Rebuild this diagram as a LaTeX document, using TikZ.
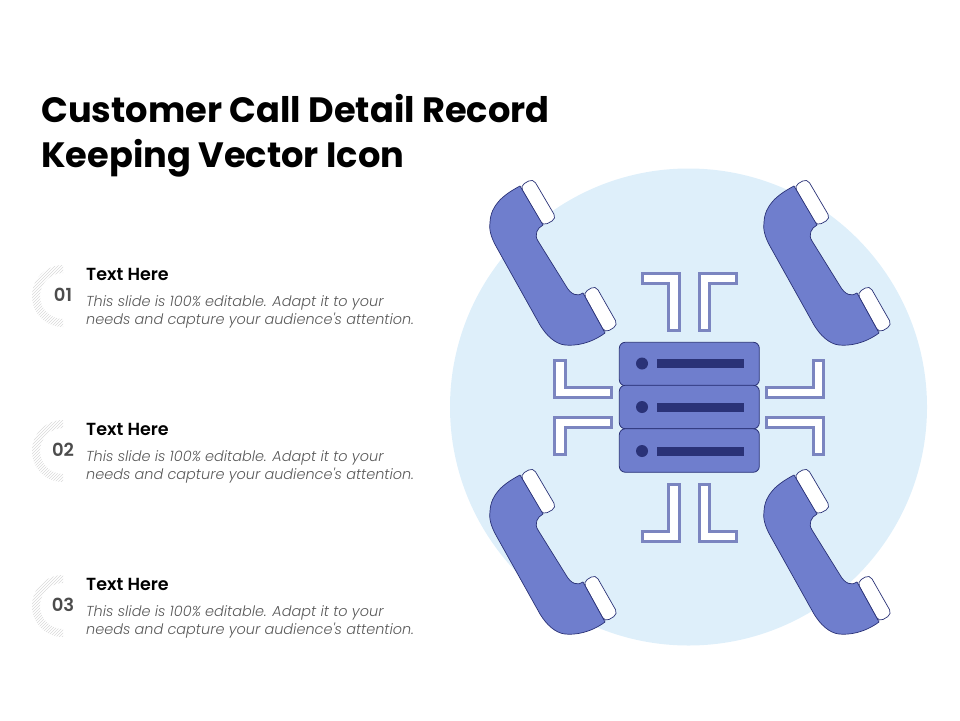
\documentclass[tikz,border=0pt]{standalone}
\usepackage{fontspec}
\setmainfont{Poppins}
\newfontfamily\lightfont{Poppins Light}
\newfontfamily\midfont{Poppins SemiBold}
\usetikzlibrary{patterns}
\definecolor{disc}{HTML}{DEEFFA}
\definecolor{handset}{HTML}{6F7ECD}
\definecolor{ink}{HTML}{2A3277}
\definecolor{frame}{HTML}{7B85C0}
\tikzstyle{title} = [anchor=base west,inner sep=0pt,font=\fontsize{35.2}{35.2}\selectfont\bfseries]
\tikzstyle{head} = [anchor=base west,inner sep=0pt,font=\fontsize{17.5}{17.5}\midfont\color{black}]
\tikzstyle{body} = [anchor=base west,inner sep=0pt,font=\fontsize{14.45}{14.45}\lightfont\itshape\color{black!65}]
\tikzstyle{num} = [inner sep=0pt,font=\fontsize{18}{18}\midfont\color{black!70}]
\tikzstyle{rack} = [draw=ink,fill=handset,rounded corners=6pt,minimum width=140pt,minimum height=43.5pt,inner sep=0pt,line width=0.8pt]
\tikzstyle{led} = [circle,fill=ink,minimum size=12pt,inner sep=0pt]
\tikzstyle{slot} = [fill=ink,minimum width=87pt,minimum height=9pt,inner sep=0pt]
\tikzstyle{corner} = [draw=frame,fill=white,line width=3pt,miter limit=10]
\tikzstyle{shell} = [draw=ink,line width=0.7pt,line join=round]
\newcommand{\handsetat}[2]{
    \begin{scope}[shift={(#1,#2)}]
        \draw[shell,fill=white,rounded corners=5pt] (520,186) -- (533,178.5) -- (556.5,218.5) -- (543,226) -- cycle;
        \draw[shell,fill=white,rounded corners=5pt] (583,293) -- (595.5,285.5) -- (618,325) -- (605,333) -- cycle;
        \draw[shell,fill=handset] (520,186) -- (543,225) .. controls (537,228) and (534,235) .. (538,241)
            -- (566,286) .. controls (571,295) and (578,297) .. (583,293) -- (605,333)
            .. controls (590,344) and (575,346) .. (565,345) .. controls (555,344) and (546,335) .. (540,325)
            -- (497,248) .. controls (490,236) and (489,228) .. (490,222) .. controls (491,205) and (503,195) .. (520,186) -- cycle;
    \end{scope}
}
\newcommand{\ringat}[1]{
    \fill[pattern=north east lines,pattern color=black!15] (63,#1-31) arc (270:90:31) -- (63,#1+23) arc (90:270:23) -- cycle;
}
\begin{document}
\begin{tikzpicture}[x=1pt,y=-1pt]
    \useasboundingbox (0,0) rectangle (960,720);
    \fill[disc] (688.5,407) circle (238.5);
    \node[title] (titleone) at (41,122) {Customer Call Detail Record};
    \node[title] (titletwo) at (41,167) {Keeping Vector Icon};

    \ringat{296}
    \ringat{451}
    \ringat{606}
    \node[num] (numone) at (63,295) {01};
    \node[num] (numtwo) at (63,450) {02};
    \node[num] (numthree) at (63,605) {03};
    \node[head] (headone) at (86,280.5) {Text Here};
    \node[body] (bodyonea) at (86,306.5) {This slide is 100\% editable. Adapt it to your};
    \node[body] (bodyoneb) at (86,324.5) {needs and capture your audience's attention.};
    \node[head] (headtwo) at (86,435.5) {Text Here};
    \node[body] (bodytwoa) at (86,461.5) {This slide is 100\% editable. Adapt it to your};
    \node[body] (bodytwob) at (86,479.5) {needs and capture your audience's attention.};
    \node[head] (headthree) at (86,590.5) {Text Here};
    \node[body] (bodythreea) at (86,616.5) {This slide is 100\% editable. Adapt it to your};
    \node[body] (bodythreeb) at (86,634.5) {needs and capture your audience's attention.};

    \handsetat{0}{0}
    \handsetat{274}{0}
    \handsetat{0}{289}
    \handsetat{274}{289}

    \draw[corner] (642.5,273.2) -- (679.2,273.2) -- (679.2,330.2) -- (668.8,330.2) -- (668.8,283.5) -- (642.5,283.5) -- cycle;
    \draw[corner] (736.2,273.2) -- (699.4,273.2) -- (699.4,330.2) -- (709.8,330.2) -- (709.8,283.5) -- (736.2,283.5) -- cycle;
    \draw[corner] (642.5,541.8) -- (679.2,541.8) -- (679.2,484.8) -- (668.8,484.8) -- (668.8,531.5) -- (642.5,531.5) -- cycle;
    \draw[corner] (736.2,541.8) -- (699.4,541.8) -- (699.4,484.8) -- (709.8,484.8) -- (709.8,531.5) -- (736.2,531.5) -- cycle;
    \draw[corner] (554.8,360.8) -- (565.2,360.8) -- (565.2,387.5) -- (611.8,387.5) -- (611.8,397.8) -- (554.8,397.8) -- cycle;
    \draw[corner] (554.8,454.2) -- (565.2,454.2) -- (565.2,427.5) -- (611.8,427.5) -- (611.8,417.2) -- (554.8,417.2) -- cycle;
    \draw[corner] (823.8,360.8) -- (813.4,360.8) -- (813.4,387.5) -- (766.8,387.5) -- (766.8,397.8) -- (823.8,397.8) -- cycle;
    \draw[corner] (823.8,454.2) -- (813.4,454.2) -- (813.4,427.5) -- (766.8,427.5) -- (766.8,417.2) -- (823.8,417.2) -- cycle;

    \node[rack] (rackone) at (689.3,364) {};
    \node[rack] (racktwo) at (689.3,407) {};
    \node[rack] (rackthree) at (689.3,450.5) {};
    \node[led] (ledone) at (642,363.5) {};
    \node[led] (ledtwo) at (642,407) {};
    \node[led] (ledthree) at (642,451) {};
    \node[slot] (slotone) at (700.5,363.5) {};
    \node[slot] (slottwo) at (700.5,407) {};
    \node[slot] (slotthree) at (700.5,451) {};
\end{tikzpicture}
\end{document}
